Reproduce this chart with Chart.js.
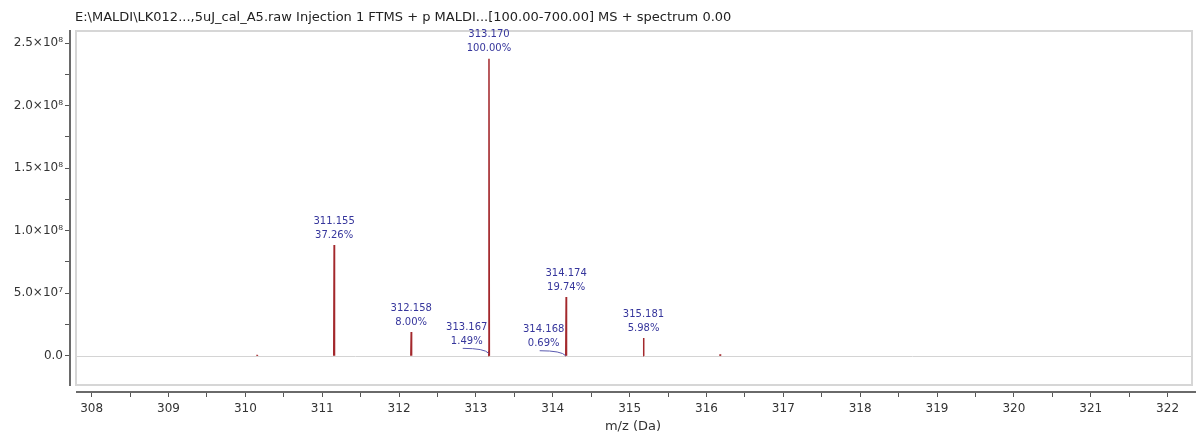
<!DOCTYPE html>
<html>
<head>
<meta charset="utf-8">
<script src="https://cdn.jsdelivr.net/npm/chart.js@4"></script>
<style>
  body { margin: 0; background: #fff; }
  #wrap { width: 1196px; height: 434px; position: relative; }
</style>
</head>
<body>
<div id="wrap"><canvas id="spectrum"></canvas></div>
<script>
// Peak list (m/z, intensity)
const mzValues = [310.152, 311.155, 312.158, 313.167, 313.170, 314.168, 314.174, 315.181, 316.178];
const intensities = [0.5e6, 8.85e7, 1.90e7, 3.5e6, 2.374e8, 1.6e6, 4.69e7, 1.42e7, 1.1e6];
const peakLabels = ['', '311.155', '312.158', '313.167', '313.170', '314.168', '314.174', '315.181', ''];
const peakPercents = ['', '37.26%', '8.00%', '1.49%', '100.00%', '0.69%', '19.74%', '5.98%', ''];

// axis ticks (major ones get a label)
const xTicks = [308, 308.5, 309, 309.5, 310, 310.5, 311, 311.5, 312, 312.5, 313, 313.5, 314, 314.5,
  315, 315.5, 316, 316.5, 317, 317.5, 318, 318.5, 319, 319.5, 320, 320.5, 321, 321.5, 322];
const yTicks = [0, 2.5e7, 5e7, 7.5e7, 1e8, 1.25e8, 1.5e8, 1.75e8, 2e8, 2.25e8, 2.5e8];
const yTickLabels = ['0.0', '', '5.0\u00d710\u2077', '', '1.0\u00d710\u2078', '', '1.5\u00d710\u2078', '',
  '2.0\u00d710\u2078', '', '2.5\u00d710\u2078'];

const titleText = 'E:\\MALDI\\LK012...,5uJ_cal_A5.raw Injection 1 FTMS + p MALDI...[100.00-700.00] MS + spectrum 0.00';
const xTitle = 'm/z (Da)';

const FONT = '"DejaVu Sans", sans-serif';

// labels that sit to the left of their peak with a leader line
const shiftedLabels = [3, 5];

// stick spectrum: each peak is a thin spike from the baseline
const stickPoints = [];
mzValues.forEach((m, i) => {
  stickPoints.push({ x: m - 0.005, y: 0 });
  stickPoints.push({ x: m, y: intensities[i] });
  stickPoints.push({ x: m + 0.005, y: 0 });
  stickPoints.push({ x: m + 0.006, y: null });
});

const decorations = {
  id: 'decorations',
  beforeDatasetsDraw(chart) {
    const ctx = chart.ctx;
    const a = chart.chartArea;
    ctx.save();
    // title
    ctx.font = '13px ' + FONT;
    ctx.fillStyle = '#222';
    ctx.textBaseline = 'middle';
    ctx.textAlign = 'left';
    ctx.fillText(titleText, 75, 18);
    // light plot frame
    ctx.strokeStyle = '#d6d6d6';
    ctx.lineWidth = 2;
    ctx.strokeRect(76, a.top + 1, a.right - 80, 354);
    // zero line
    const y0 = Math.round(chart.scales.y.getPixelForValue(0)) + 0.5;
    ctx.strokeStyle = '#d4d4d4';
    ctx.lineWidth = 1;
    ctx.beginPath();
    ctx.moveTo(77, y0);
    ctx.lineTo(a.right - 5, y0);
    ctx.stroke();
    // axis lines
    ctx.strokeStyle = '#6a6a6a';
    ctx.lineWidth = 2;
    ctx.beginPath();
    ctx.moveTo(a.left, a.top);
    ctx.lineTo(a.left, 386);
    ctx.moveTo(76, a.bottom);
    ctx.lineTo(a.right, a.bottom);
    ctx.stroke();
    ctx.restore();
  },
  afterDatasetsDraw(chart) {
    const ctx = chart.ctx;
    const xs = chart.scales.x;
    const ys = chart.scales.y;
    ctx.save();
    ctx.font = '10px ' + FONT;
    ctx.fillStyle = '#36369c';
    ctx.strokeStyle = '#5a5ab0';
    ctx.lineWidth = 1;
    ctx.textAlign = 'center';
    ctx.textBaseline = 'middle';
    for (let i = 0; i < mzValues.length; i++) {
      if (!peakLabels[i]) continue;
      const px = xs.getPixelForValue(mzValues[i]);
      const py = ys.getPixelForValue(intensities[i]);
      let lx = px;
      if (shiftedLabels.includes(i)) {
        lx = px - 22;
        ctx.beginPath();
        ctx.moveTo(lx - 4, py - 3);
        ctx.quadraticCurveTo(px - 4, py - 3, px, py + 2);
        ctx.stroke();
      }
      ctx.fillText(peakLabels[i], lx, py - 24);
      ctx.fillText(peakPercents[i], lx, py - 10);
    }
    ctx.restore();
  }
};

new Chart(document.getElementById('spectrum'), {
  type: 'line',
  data: {
    datasets: [{
      data: stickPoints,
      borderColor: '#a3282c',
      borderWidth: 1.5,
      borderJoinStyle: 'bevel',
      fill: false,
      pointRadius: 0,
      spanGaps: false,
      tension: 0
    }]
  },
  options: {
    responsive: true,
    maintainAspectRatio: false,
    animation: false,
    layout: { padding: { top: 30, right: 0, bottom: 0, left: 0 } },
    plugins: { legend: { display: false }, tooltip: { enabled: false } },
    scales: {
      x: {
        type: 'linear',
        min: 307.718,
        max: 322.37,
        offset: false,
        bounds: 'data',
        afterFit(scale) { scale.height = 42; },
        afterBuildTicks(scale) { scale.ticks = xTicks.map(v => ({ value: v })); },
        ticks: {
          autoSkip: false,
          maxRotation: 0,
          padding: 5,
          color: '#333',
          font: { family: FONT, size: 12 },
          callback: v => Number.isInteger(v) ? String(v) : ''
        },
        grid: { drawOnChartArea: false, offset: false, tickLength: 5, tickColor: '#555', tickWidth: 1 },
        border: { display: false },
        title: { display: true, text: xTitle, color: '#333', font: { family: FONT, size: 13 }, padding: { top: 0, bottom: 0 } }
      },
      y: {
        type: 'linear',
        min: -2.9e7,
        max: 2.604e8,
        bounds: 'data',
        afterFit(scale) { scale.width = 70; },
        afterBuildTicks(scale) { scale.ticks = yTicks.map(v => ({ value: v })); },
        ticks: {
          autoSkip: false,
          padding: 2,
          color: '#333',
          font: { family: FONT, size: 12 },
          callback: (v, i) => yTickLabels[i]
        },
        grid: { drawOnChartArea: false, tickLength: 5, tickColor: '#555' },
        border: { display: false }
      }
    }
  },
  plugins: [decorations]
});
</script>
</body>
</html>
